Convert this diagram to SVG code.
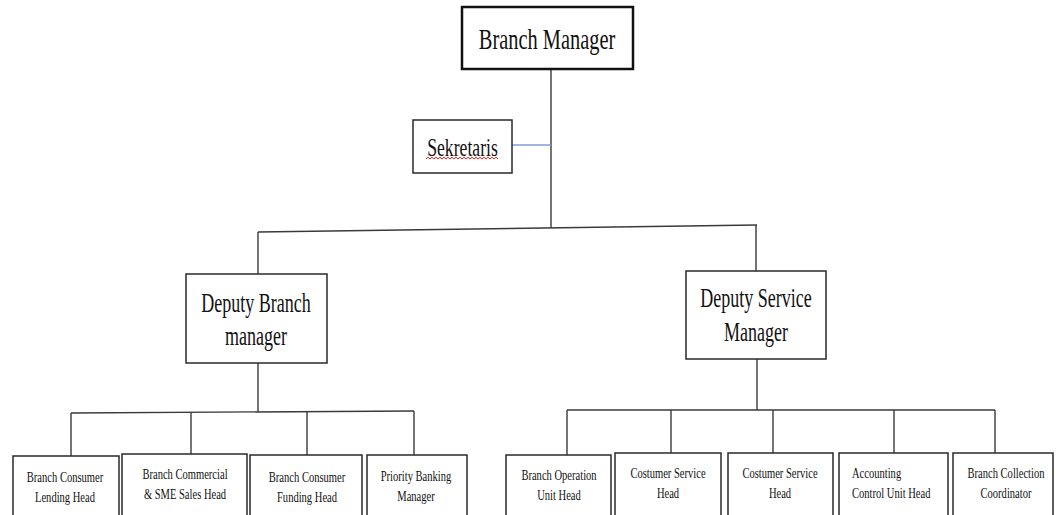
<svg xmlns="http://www.w3.org/2000/svg" width="1056" height="515" viewBox="0 0 1056 515">
<style>
.bx{fill:#fff;stroke:#2a2a2a;stroke-width:1.5}
.t{fill:#111;text-anchor:middle}
.s{font-size:15.5px}
.m{font-size:26.5px}
.c{fill:none;stroke:#3a3a3a;stroke-width:1.4}
</style>
<rect width="1056" height="515" fill="#fff"/>
<g id="connectors">
<line class="c" x1="551" y1="69" x2="551" y2="228" stroke="#666"/>
<line x1="512" y1="145" x2="551" y2="145" stroke="#7f9fd4" stroke-width="1.6"/>
<line class="c" x1="258" y1="232" x2="757" y2="225"/>
<line class="c" x1="258" y1="232" x2="258" y2="274"/>
<line class="c" x1="756" y1="225" x2="756" y2="271"/>
<line class="c" x1="258" y1="363" x2="258" y2="412"/>
<line class="c" x1="71" y1="413" x2="414" y2="411"/>
<line class="c" x1="71" y1="413" x2="71" y2="456"/>
<line class="c" x1="191" y1="412" x2="191" y2="454"/>
<line class="c" x1="307" y1="412" x2="307" y2="455"/>
<line class="c" x1="414" y1="411" x2="414" y2="455"/>
<line class="c" x1="757" y1="359" x2="757" y2="410"/>
<line class="c" x1="567" y1="410" x2="995" y2="410"/>
<line class="c" x1="567" y1="410" x2="567" y2="455"/>
<line class="c" x1="671" y1="410" x2="671" y2="453"/>
<line class="c" x1="773" y1="410" x2="773" y2="453"/>
<line class="c" x1="894" y1="410" x2="894" y2="453"/>
<line class="c" x1="995" y1="410" x2="995" y2="453"/>
</g>
<g font-family="'Liberation Serif', 'DejaVu Serif', serif">
<g id="branch-manager">
<rect x="462" y="7" width="171" height="62" fill="#fff" stroke="#111" stroke-width="2.5"/>
<text class="t" font-size="30" transform="translate(547 0) scale(0.68 1)" x="0" y="49">Branch Manager</text>
</g>
<g id="sekretaris">
<rect class="bx" x="413" y="120" width="99" height="53"/>
<text class="t" font-size="26" transform="translate(462.5 0) scale(0.68 1)" x="0" y="156">Sekretaris</text>
<path d="M426 159 l2 -1.8 l2 1.8 l2 -1.8 l2 1.8 l2 -1.8 l2 1.8 l2 -1.8 l2 1.8 l2 -1.8 l2 1.8 l2 -1.8 l2 1.8 l2 -1.8 l2 1.8 l2 -1.8 l2 1.8 l2 -1.8 l2 1.8 l2 -1.8 l2 1.8 l2 -1.8 l2 1.8 l2 -1.8 l2 1.8 l2 -1.8 l2 1.8 l2 -1.8 l2 1.8 l2 -1.8 l2 1.8 l2 -1.8 l2 1.8 l2 -1.8 l2 1.8 l2 -1.8 l2 1.8" fill="none" stroke="#e02020" stroke-width="1"/>
</g>
<g id="deputy-branch-manager">
<rect class="bx" x="186" y="274" width="141" height="89"/>
<text class="t m" transform="translate(256 0) scale(0.68 1)" x="0" y="312">Deputy Branch</text>
<text class="t m" transform="translate(256 0) scale(0.68 1)" x="0" y="345">manager</text>
</g>
<g id="deputy-service-manager">
<rect class="bx" x="686" y="271" width="140" height="88"/>
<text class="t m" transform="translate(756 0) scale(0.68 1)" x="0" y="307">Deputy Service</text>
<text class="t m" transform="translate(756 0) scale(0.68 1)" x="0" y="341">Manager</text>
</g>
<g id="consumer-lending-head">
<rect class="bx" x="13" y="456" width="106" height="80"/>
<text class="t s" transform="translate(65 0) scale(0.68 1)" x="0" y="482">Branch Consumer</text>
<text class="t s" transform="translate(65 0) scale(0.68 1)" x="0" y="502">Lending Head</text>
</g>
<g id="commercial-sme-sales-head">
<rect class="bx" x="122" y="454" width="125" height="80"/>
<text class="t s" transform="translate(185 0) scale(0.68 1)" x="0" y="479">Branch Commercial</text>
<text class="t s" transform="translate(185 0) scale(0.68 1)" x="0" y="499">&amp; SME Sales Head</text>
</g>
<g id="consumer-funding-head">
<rect class="bx" x="250" y="455" width="112" height="80"/>
<text class="t s" transform="translate(307 0) scale(0.68 1)" x="0" y="482">Branch Consumer</text>
<text class="t s" transform="translate(307 0) scale(0.68 1)" x="0" y="502">Funding Head</text>
</g>
<g id="priority-banking-manager">
<rect class="bx" x="367" y="455" width="100" height="80"/>
<text class="t s" transform="translate(416 0) scale(0.68 1)" x="0" y="481">Priority Banking</text>
<text class="t s" transform="translate(416 0) scale(0.68 1)" x="0" y="501">Manager</text>
</g>
<g id="operation-unit-head">
<rect class="bx" x="506" y="455" width="105" height="80"/>
<text class="t s" transform="translate(559 0) scale(0.68 1)" x="0" y="480">Branch Operation</text>
<text class="t s" transform="translate(559 0) scale(0.68 1)" x="0" y="500">Unit Head</text>
</g>
<g id="costumer-service-head-1">
<rect class="bx" x="615" y="453" width="106" height="80"/>
<text class="t s" transform="translate(668 0) scale(0.68 1)" x="0" y="478">Costumer Service</text>
<text class="t s" transform="translate(668 0) scale(0.68 1)" x="0" y="498">Head</text>
</g>
<g id="costumer-service-head-2">
<rect class="bx" x="728" y="453" width="105" height="80"/>
<text class="t s" transform="translate(780 0) scale(0.68 1)" x="0" y="478">Costumer Service</text>
<text class="t s" transform="translate(780 0) scale(0.68 1)" x="0" y="498">Head</text>
</g>
<g id="accounting-control-unit-head">
<rect class="bx" x="839" y="453" width="109" height="80"/>
<text class="t s" style="text-anchor:start" transform="translate(852 0) scale(0.68 1)" x="0" y="478">Accounting</text>
<text class="t s" style="text-anchor:start" transform="translate(852 0) scale(0.68 1)" x="0" y="498">Control Unit Head</text>
</g>
<g id="collection-coordinator">
<rect class="bx" x="953" y="453" width="100" height="80"/>
<text class="t s" transform="translate(1006 0) scale(0.68 1)" x="0" y="478">Branch Collection</text>
<text class="t s" transform="translate(1006 0) scale(0.68 1)" x="0" y="498">Coordinator</text>
</g>
</g>
</svg>
